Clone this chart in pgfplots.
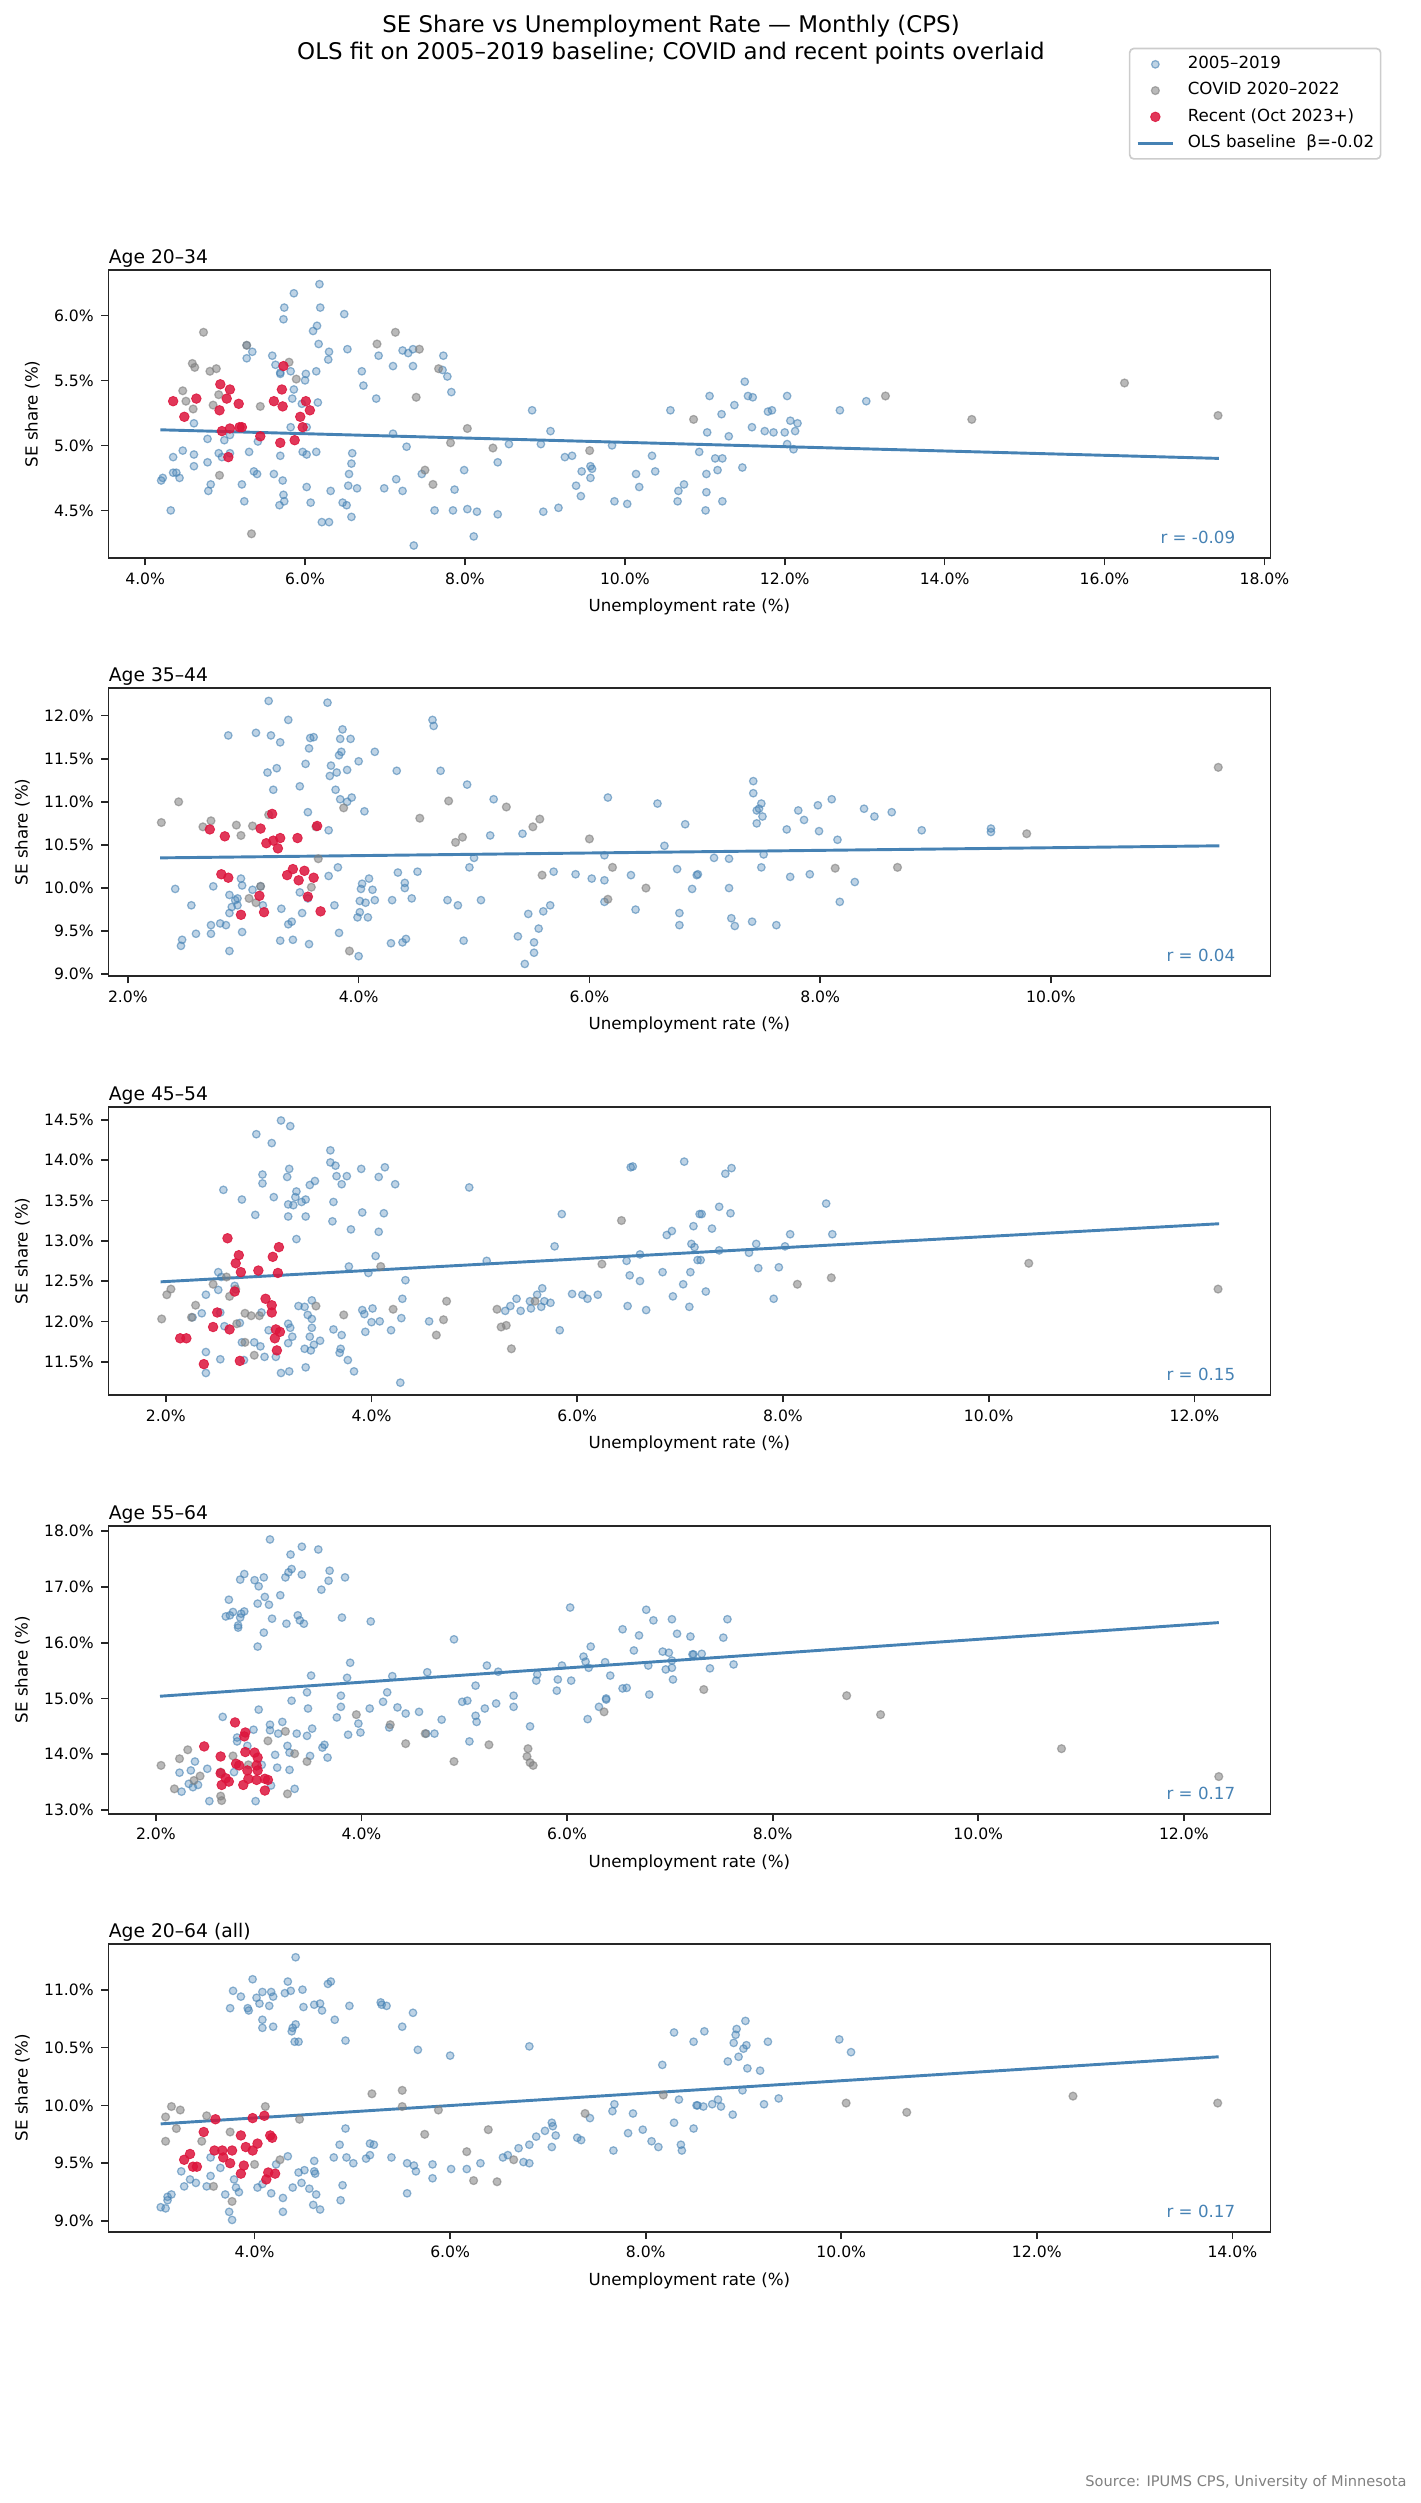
\documentclass[border=0pt]{standalone}
\usepackage{fontspec}
\setmainfont{DejaVu Sans}
\usepackage{pgfplots}
\pgfplotsset{compat=1.18}

\definecolor{steel}{RGB}{70,130,180}
\definecolor{crim}{RGB}{220,20,60}
\definecolor{covid}{RGB}{128,128,128}

\tikzset{rval/.style={anchor=base east, inner sep=0pt, text=steel, font=\fontsize{8}{9.6}\selectfont}}

\pgfplotsset{
  panel/.style={
    scale only axis, width=557.76pt, height=138.24pt, anchor=north west,
    axis line style={line width=0.8pt, black!85},
    tick style={line width=0.8pt, black!85},
    tick align=outside, major tick length=3.5pt,
    xtick pos=bottom, ytick pos=left,
    /pgf/number format/assume math mode=true,
    tick label style={font=\fontsize{7.5}{9}\selectfont},
    label style={font=\fontsize{8}{9.6}\selectfont},
    xlabel={Unemployment rate (\%)}, ylabel={SE share (\%)},
    xticklabel={\pgfmathprintnumber[fixed,fixed zerofill,precision=1]{\tick}\%},
    yticklabel={\pgfmathprintnumber[fixed,fixed zerofill,precision=1]{\tick}\%},
    scaled ticks=false,
    every axis title shift=0pt,
    title style={at={(0,1)}, anchor=base west, yshift=3pt, inner sep=0pt,
      font=\fontsize{9}{10.8}\selectfont},
  },
  base/.style={only marks, mark=*, mark size=1.8pt,
    mark options={draw=steel, fill=steel, fill opacity=0.35, draw opacity=0.6, line width=0.6pt}},
  covid/.style={only marks, mark=*, mark size=1.9pt,
    mark options={draw=covid, fill=covid, fill opacity=0.55, draw opacity=0.6, line width=0.6pt}},
  recent/.style={only marks, mark=*, mark size=2.3pt,
    mark options={draw=crim, fill=crim, opacity=0.85, line width=0.4pt}},
  ols/.style={no markers, steel, line width=1.4pt},
}

\begin{document}
\begin{tikzpicture}
\useasboundingbox (0pt,0pt) rectangle (682.08pt,-1201.44pt);

\node[align=center, font=\fontsize{11}{12.8}\selectfont] at (322.08pt,-19.2pt)
  {SE Share vs Unemployment Rate — Monthly (CPS)\\OLS fit on 2005–2019 baseline; COVID and recent points overlaid};

% ---- Age 20-34
\begin{axis}[panel, at={(52.03pt,-129.6pt)}, title={Age 20–34},
  xmin=3.54, xmax=18.075, ymin=4.134, ymax=6.349,
  xtick={4,6,...,18}, ytick={4.5,5,5.5,6},
  legend cell align=left,
  legend style={at={(1.0956,1.772)}, anchor=north east, draw=black!20, line width=0.8pt,
    rounded corners=2pt, fill=white, font=\fontsize{8}{9.6}\selectfont,
    inner xsep=3.1pt, inner ysep=3.6pt, row sep=4.6pt, column sep=6.4pt,
    nodes={inner sep=0pt, text height=6pt, text depth=2pt}}]
\addlegendimage{base}\addlegendentry{2005–2019}
\addlegendimage{covid}\addlegendentry{COVID 2020–2022}
\addlegendimage{recent}\addlegendentry{Recent (Oct 2023+)}
\addlegendimage{ols, legend image code/.code={\draw[steel, line width=1.4pt] (0pt,0pt) -- (17pt,0pt);}}
\addlegendentry{OLS baseline\ \ β=-0.02}
\addplot[ols, forget plot] coordinates {(4.19,5.12)(17.43,4.90)};
\addplot[base, forget plot] coordinates {
(6.18,6.24)(5.86,6.17)(5.74,6.06)(6.19,6.06)(5.73,5.97)(6.49,6.01)(6.10,5.88)(6.15,5.92)(6.17,5.78)(6.30,5.72)
(6.29,5.66)(6.53,5.74)(5.59,5.69)(5.63,5.62)(5.69,5.56)(5.69,5.55)(5.82,5.57)(6.01,5.55)(6.14,5.57)(6.00,5.50)
(5.86,5.43)(5.84,5.36)(5.96,5.32)(6.16,5.33)(6.71,5.57)(6.73,5.46)(6.89,5.36)(7.10,5.61)(7.35,5.61)(6.92,5.69)
(7.22,5.73)(7.29,5.71)(7.35,5.74)(7.73,5.69)(7.72,5.58)(7.78,5.53)(7.83,5.41)(5.27,5.67)(5.34,5.72)(5.27,5.77)
(4.61,5.17)(4.78,5.05)(4.99,5.04)(5.06,5.08)(4.92,4.94)(4.96,4.91)(5.06,4.94)(5.30,4.95)(5.41,5.03)(5.82,5.14)
(6.02,5.14)(5.97,4.95)(6.02,4.93)(6.14,4.95)(5.69,4.92)(6.59,4.94)(6.58,4.86)(6.55,4.78)(4.35,4.91)(4.47,4.96)
(4.61,4.93)(4.61,4.84)(4.78,4.87)(4.35,4.79)(4.39,4.79)(4.43,4.75)(4.20,4.73)(4.22,4.75)(4.79,4.65)(4.82,4.70)
(5.21,4.70)(5.24,4.57)(5.36,4.80)(5.40,4.78)(5.61,4.78)(5.72,4.73)(5.73,4.62)(5.68,4.54)(5.74,4.57)(6.02,4.68)
(6.07,4.56)(6.32,4.65)(6.54,4.69)(6.65,4.67)(6.47,4.56)(6.52,4.54)(6.58,4.45)(6.21,4.41)(6.30,4.41)(4.32,4.50)
(6.99,4.67)(7.14,4.74)(7.22,4.65)(7.10,5.09)(7.27,4.99)(7.46,4.78)(7.62,4.50)(7.85,4.50)(7.87,4.66)(7.99,4.81)
(8.03,4.51)(8.15,4.49)(8.11,4.30)(7.36,4.23)(8.41,4.87)(8.41,4.47)(8.55,5.01)(8.84,5.27)(8.95,5.01)(9.07,5.11)
(9.25,4.91)(9.34,4.92)(9.46,4.80)(9.39,4.69)(9.45,4.61)(9.57,4.84)(9.59,4.82)(9.57,4.75)(9.84,5.00)(9.87,4.57)
(10.03,4.55)(10.14,4.78)(10.18,4.68)(10.38,4.80)(10.34,4.92)(10.57,5.27)(10.67,4.65)(10.66,4.57)(10.74,4.70)(10.93,4.95)
(9.17,4.52)(8.98,4.49)
(11.50,5.49)(11.06,5.38)(11.54,5.38)(11.60,5.37)(12.03,5.38)(11.37,5.31)(11.21,5.24)(11.79,5.26)(11.84,5.27)(12.69,5.27)
(13.02,5.34)(12.07,5.19)(12.16,5.17)(11.03,5.10)(11.30,5.07)(11.59,5.14)(11.75,5.11)(11.86,5.10)(12.00,5.10)(12.13,5.11)
(12.03,5.01)(12.11,4.97)(11.13,4.90)(11.22,4.90)(11.16,4.81)(11.47,4.83)(11.02,4.78)(11.02,4.64)(11.22,4.57)(11.01,4.50)
};
\addplot[covid, forget plot] coordinates {
(4.73,5.87)(5.27,5.77)(4.59,5.63)(4.62,5.60)(4.81,5.57)(4.89,5.59)(4.47,5.42)(4.51,5.34)(4.60,5.28)(4.85,5.31)
(4.92,5.39)(4.93,4.77)(5.33,4.32)(5.44,5.30)(5.80,5.64)(5.89,5.51)(7.13,5.87)(6.90,5.78)(7.43,5.74)(7.67,5.59)
(7.39,5.37)(7.82,5.02)(8.03,5.13)(8.35,4.98)(9.56,4.96)(7.50,4.81)(7.60,4.70)(10.86,5.20)(13.26,5.38)(14.34,5.20)
(16.25,5.48)(17.42,5.23)
};
\addplot[recent, forget plot] coordinates {
(4.35,5.34)(4.49,5.22)(4.64,5.36)(4.94,5.47)(5.06,5.43)(5.02,5.36)(4.93,5.27)(5.17,5.32)(4.96,5.11)(5.06,5.13)
(5.18,5.14)(5.21,5.14)(5.44,5.07)(5.04,4.91)(5.61,5.34)(5.71,5.43)(5.72,5.30)(5.73,5.61)(5.69,5.02)(5.87,5.04)
(6.01,5.34)(6.06,5.27)(5.94,5.22)(5.97,5.14)
};
\node[rval] at (rel axis cs:0.97,0.05) {r = -0.09};
\end{axis}

% ---- Age 35-44
\begin{axis}[panel, at={(52.03pt,-330.24pt)}, title={Age 35–44},
  xmin=1.831, xmax=11.902, ymin=8.98, ymax=12.32,
  xtick={2,4,...,10}, ytick={9,9.5,...,12}]
\addplot[ols] coordinates {(2.28,10.35)(11.46,10.49)};
\addplot[base] coordinates {
(3.22,12.17)(3.73,12.15)(3.39,11.95)(4.64,11.95)(4.65,11.88)(2.87,11.77)(3.11,11.80)(3.24,11.77)(3.32,11.69)(3.58,11.74)
(3.61,11.75)(3.86,11.84)(3.84,11.73)(3.93,11.73)(3.57,11.62)(3.85,11.58)(3.83,11.54)(4.14,11.58)(4.00,11.47)(3.54,11.44)
(3.76,11.42)(3.81,11.34)(3.75,11.30)(3.90,11.37)(3.21,11.34)(3.29,11.39)(4.33,11.36)(4.71,11.36)(3.49,11.18)(3.26,11.14)
(3.80,11.14)(4.94,11.20)(3.84,11.03)(3.94,11.05)(3.90,11.00)(5.17,11.03)(3.56,10.88)(4.05,10.89)(6.16,11.05)(6.59,10.98)
(6.83,10.74)(3.74,10.67)(5.14,10.61)(5.42,10.63)(6.65,10.49)(5.00,10.35)(4.96,10.24)(6.13,10.38)(3.82,10.24)(3.74,10.14)
(4.34,10.18)(4.51,10.19)(4.40,10.06)(4.40,10.00)(4.03,10.05)(4.09,10.11)(4.02,9.99)(4.12,9.98)(5.69,10.19)(5.88,10.16)
(6.02,10.11)(6.13,10.09)(6.36,10.15)(6.76,10.22)(6.93,10.15)(6.89,9.99)(2.98,10.11)(2.99,10.03)(2.74,10.02)(2.41,9.99)
(2.55,9.80)(2.88,9.92)(2.93,9.86)(2.95,9.88)(2.90,9.78)(2.95,9.80)(2.88,9.71)(3.08,9.98)(3.15,10.02)(3.17,9.80)
(3.33,9.76)(3.49,9.95)(3.51,9.71)(3.56,9.88)(3.79,9.80)(4.01,9.85)(4.06,9.83)(4.14,9.86)(4.29,9.86)(4.46,9.88)
(4.77,9.86)(4.86,9.80)(5.06,9.86)(5.60,9.73)(5.66,9.80)(5.47,9.70)(5.56,9.53)(6.13,9.84)(6.40,9.75)(6.78,9.71)
(6.78,9.57)(3.99,9.66)(4.08,9.66)(4.01,9.72)(2.72,9.57)(2.80,9.59)(2.85,9.57)(2.59,9.47)(2.72,9.47)(2.99,9.49)
(2.47,9.40)(2.46,9.33)(2.88,9.27)(3.32,9.39)(3.43,9.40)(3.39,9.58)(3.42,9.61)(3.57,9.35)(3.83,9.48)(4.00,9.21)
(4.28,9.36)(4.38,9.37)(4.41,9.41)(4.91,9.39)(5.38,9.44)(5.52,9.37)(5.52,9.25)(5.44,9.12)
(7.42,11.24)(7.42,11.10)(7.49,10.98)(7.45,10.90)(7.47,10.92)(7.50,10.83)(7.45,10.75)(7.71,10.68)(7.81,10.90)(7.86,10.79)
(7.98,10.96)(8.10,11.03)(7.99,10.66)(8.15,10.56)(8.38,10.92)(8.47,10.83)(8.62,10.88)(8.88,10.67)(9.48,10.69)(9.48,10.65)
(7.08,10.35)(7.21,10.34)(7.51,10.39)(7.49,10.24)(6.94,10.16)(7.21,10.00)(7.74,10.13)(7.91,10.16)(8.30,10.07)(8.17,9.84)
(7.23,9.65)(7.26,9.56)(7.41,9.61)(7.62,9.57)
};
\addplot[covid] coordinates {
(2.29,10.76)(2.44,11.00)(2.72,10.78)(2.65,10.71)(2.94,10.73)(2.98,10.61)(3.08,10.72)(3.22,10.85)(3.63,10.71)(3.87,10.93)
(3.65,10.34)(3.59,10.01)(3.15,10.02)(3.05,9.88)(3.11,9.83)(3.92,9.27)(4.53,10.81)(4.78,11.01)(4.84,10.53)(4.90,10.59)
(5.28,10.94)(5.51,10.71)(5.57,10.80)(5.59,10.15)(6.00,10.57)(6.20,10.24)(6.49,10.00)(6.16,9.87)(8.13,10.23)(8.67,10.24)
(9.79,10.63)(11.45,11.40)
};
\addplot[recent] coordinates {
(2.71,10.68)(2.84,10.60)(3.15,10.69)(3.25,10.86)(3.20,10.52)(3.26,10.55)(3.32,10.58)(3.30,10.46)(3.47,10.58)(3.64,10.72)
(2.81,10.16)(2.87,10.12)(3.38,10.15)(3.43,10.22)(3.48,10.09)(3.53,10.20)(3.61,10.12)(3.14,9.91)(3.56,9.90)(2.98,9.69)
(3.18,9.72)(3.67,9.73)
};
\node[rval] at (rel axis cs:0.97,0.05) {r = 0.04};
\end{axis}

% ---- Age 45-54
\begin{axis}[panel, at={(52.03pt,-531.36pt)}, title={Age 45–54},
  xmin=1.442, xmax=12.739, ymin=11.087, ymax=14.657,
  xtick={2,4,...,12}, ytick={11.5,12,...,14.5}]
\addplot[ols] coordinates {(1.95,12.49)(12.24,13.21)};
\addplot[base] coordinates {
(3.12,14.49)(3.21,14.42)(2.88,14.32)(3.03,14.21)(3.60,14.12)(3.60,13.97)(3.65,13.93)(3.90,13.89)(4.13,13.91)(4.07,13.79)
(3.76,13.80)(3.66,13.80)(3.71,13.70)(4.23,13.70)(3.45,13.74)(3.40,13.69)(3.20,13.89)(3.18,13.79)(2.94,13.82)(2.94,13.71)
(2.56,13.63)(2.74,13.51)(3.05,13.54)(3.27,13.61)(3.26,13.54)(3.36,13.51)(3.32,13.48)(3.19,13.45)(3.24,13.44)(3.63,13.48)
(2.87,13.32)(3.19,13.30)(3.36,13.30)(3.62,13.24)(3.91,13.35)(4.12,13.34)(3.80,13.14)(4.07,13.11)(3.27,13.02)(4.95,13.66)
(5.85,13.33)(6.52,13.91)(6.54,13.92)(7.04,13.98)(5.78,12.93)(6.87,13.07)(6.92,13.12)(7.13,13.18)(7.19,13.33)(7.11,12.96)
(7.14,12.92)(7.17,12.76)(6.48,12.75)(6.61,12.83)(5.12,12.75)(4.04,12.81)(3.78,12.68)(3.97,12.60)(4.33,12.51)(6.51,12.57)
(6.61,12.50)(6.83,12.61)(7.10,12.61)(7.03,12.46)(6.93,12.31)(6.49,12.19)(6.67,12.14)(7.09,12.18)(5.95,12.34)(6.05,12.33)
(6.10,12.28)(6.20,12.33)(5.66,12.41)(5.61,12.33)(5.68,12.25)(5.74,12.23)(5.41,12.28)(5.35,12.19)(5.30,12.13)(5.45,12.13)
(5.55,12.16)(5.65,12.18)(5.54,12.25)(5.83,11.89)(2.51,12.61)(2.54,12.55)(2.67,12.44)(2.51,12.39)(2.39,12.33)(2.35,12.10)
(2.26,12.05)(2.53,12.11)(2.57,11.94)(2.72,11.98)(2.93,12.11)(2.39,11.62)(2.39,11.36)(2.53,11.53)(2.74,11.74)(2.86,11.74)
(2.92,11.69)(2.76,11.52)(2.96,11.56)(3.07,11.56)(3.00,11.89)(3.19,11.97)(3.21,11.92)(3.23,11.81)(3.19,11.73)(3.12,11.36)
(3.20,11.38)(3.36,11.43)(3.29,12.19)(3.35,12.18)(3.42,12.26)(3.38,12.08)(3.42,12.03)(3.42,11.92)(3.40,11.81)(3.35,11.66)
(3.41,11.64)(3.44,11.71)(3.50,11.76)(3.63,11.90)(3.71,11.83)(3.70,11.66)(3.69,11.61)(3.77,11.52)(3.83,11.38)(3.91,12.14)
(3.93,12.09)(4.01,12.16)(4.00,11.99)(4.08,12.00)(3.94,11.87)(4.19,11.89)(4.29,12.04)(4.30,12.28)(4.56,12.00)(4.28,11.24)
(7.44,13.83)(7.50,13.90)(7.38,13.42)(7.49,13.34)(7.21,13.33)(7.31,13.15)(8.42,13.46)(8.48,13.08)(8.07,13.08)(7.74,12.96)
(8.02,12.93)(7.38,12.88)(7.67,12.85)(7.20,12.76)(7.76,12.66)(7.96,12.67)(7.25,12.37)(7.91,12.28)
};
\addplot[covid] coordinates {
(1.96,12.03)(2.01,12.33)(2.05,12.40)(2.29,12.20)(2.25,12.05)(2.46,12.46)(2.59,12.55)(2.62,12.31)(2.68,12.40)(2.69,11.97)
(2.77,12.10)(2.83,12.07)(2.91,12.07)(2.77,11.74)(2.86,11.58)(3.46,12.19)(3.73,12.08)(4.09,12.68)(4.21,12.15)(4.73,12.25)
(4.70,12.02)(4.63,11.83)(5.22,12.15)(5.26,11.93)(5.31,11.95)(5.36,11.66)(5.59,12.25)(6.24,12.71)(6.43,13.25)(8.14,12.46)
(8.47,12.54)(10.39,12.72)(12.23,12.40)
};
\addplot[recent] coordinates {
(2.60,13.03)(2.71,12.82)(2.68,12.72)(2.73,12.61)(2.90,12.63)(3.04,12.80)(3.10,12.92)(3.09,12.60)(2.67,12.37)(2.97,12.28)
(3.03,12.20)(3.03,12.11)(2.50,12.11)(2.46,11.93)(2.62,11.90)(2.14,11.79)(2.20,11.79)(3.07,11.90)(3.11,11.87)(3.06,11.79)
(3.08,11.64)(2.37,11.47)(2.72,11.51)
};
\node[rval] at (rel axis cs:0.97,0.05) {r = 0.15};
\end{axis}

% ---- Age 55-64
\begin{axis}[panel, at={(52.03pt,-732.34pt)}, title={Age 55–64},
  xmin=1.538, xmax=12.842, ymin=12.934, ymax=18.096,
  xtick={2,4,...,12}, ytick={13,14,...,18}]
\addplot[ols] coordinates {(2.04,15.04)(12.34,16.36)};
\addplot[base] coordinates {
(3.11,17.85)(3.42,17.72)(3.58,17.67)(3.31,17.58)(2.86,17.23)(2.82,17.13)(2.96,17.12)(3.00,17.01)(3.05,17.17)(3.26,17.17)
(3.29,17.26)(3.32,17.32)(3.42,17.22)(3.69,17.29)(3.68,17.11)(3.84,17.17)(3.61,16.95)(3.21,16.85)(3.06,16.82)(2.71,16.77)
(2.99,16.70)(3.10,16.68)(2.68,16.47)(2.72,16.49)(2.75,16.55)(2.83,16.52)(2.86,16.56)(2.82,16.45)(2.80,16.31)(2.80,16.27)
(3.13,16.43)(3.27,16.34)(3.38,16.49)(3.40,16.40)(3.44,16.34)(3.81,16.45)(4.09,16.38)(3.05,16.18)(2.99,15.93)(3.89,15.64)
(3.51,15.41)(3.86,15.37)(4.30,15.40)(4.64,15.47)(4.90,16.06)(6.03,16.63)(6.77,16.59)(6.84,16.40)(7.02,16.42)(6.54,16.24)
(6.70,16.13)(7.07,16.16)(7.20,16.11)(6.23,15.93)(6.16,15.75)(6.18,15.66)(6.21,15.55)(5.95,15.59)(6.37,15.65)(6.42,15.41)
(6.65,15.86)(6.93,15.84)(6.99,15.82)(7.02,15.68)(6.79,15.59)(6.96,15.52)(7.02,15.55)(7.03,15.34)(7.22,15.79)(5.22,15.59)
(5.33,15.48)(5.71,15.43)(5.70,15.32)(5.91,15.34)(6.04,15.32)(5.90,15.14)(6.54,15.18)(6.58,15.19)(6.80,15.07)(6.38,14.98)
(6.31,14.85)(6.20,14.63)(5.11,15.23)(5.48,15.05)(4.98,14.94)(5.03,14.96)(5.20,14.82)(5.31,14.91)(5.48,14.85)(5.11,14.69)
(5.12,14.58)(5.64,14.50)(5.05,14.23)(4.25,15.11)(4.21,14.94)(4.35,14.84)(4.43,14.73)(4.56,14.76)(4.78,14.62)(4.71,14.37)
(4.63,14.37)(4.27,14.48)(4.08,14.82)(3.80,15.05)(3.80,14.85)(3.76,14.66)(3.97,14.55)(3.99,14.39)(3.87,14.35)(3.47,15.11)
(3.32,14.96)(3.48,14.82)(3.00,14.80)(2.65,14.67)(2.95,14.44)(3.11,14.53)(3.23,14.58)(3.11,14.43)(3.19,14.37)(3.37,14.37)
(3.52,14.46)(3.47,14.33)(3.64,14.17)(3.62,14.12)(3.28,14.15)(3.30,14.03)(3.16,13.99)(3.50,13.97)(3.67,13.94)(3.18,13.76)
(3.30,13.72)(3.35,13.38)(3.12,13.44)(2.79,14.30)(2.79,14.23)(2.89,14.15)(2.38,13.87)(2.50,13.74)(2.34,13.71)(2.23,13.67)
(2.32,13.47)(2.36,13.41)(2.41,13.45)(2.25,13.33)(2.52,13.16)(2.97,13.16)(2.76,13.68)(3.03,13.81)(6.38,15.00)
(7.56,16.42)(7.52,16.09)(7.23,15.79)(7.31,15.80)(7.39,15.54)(7.62,15.61)
};
\addplot[covid] coordinates {
(2.05,13.80)(2.23,13.92)(2.31,14.08)(2.37,13.53)(2.43,13.61)(2.18,13.38)(2.63,13.25)(2.64,13.17)(2.63,13.68)(2.75,13.97)
(2.90,13.81)(3.09,14.24)(3.26,14.41)(3.35,14.01)(3.47,13.87)(3.28,13.29)(3.95,14.71)(4.28,14.53)(4.62,14.37)(4.43,14.19)
(4.90,13.87)(5.24,14.17)(5.62,14.10)(5.61,13.96)(5.64,13.85)(5.67,13.80)(6.36,14.76)(7.33,15.16)(8.72,15.05)(9.05,14.71)
(10.81,14.10)(12.34,13.60)
};
\addplot[recent] coordinates {
(2.77,14.57)(2.87,14.39)(2.86,14.32)(2.47,14.14)(2.63,13.96)(2.87,14.04)(2.96,14.03)(2.99,13.94)(2.78,13.83)(2.81,13.80)
(2.98,13.80)(2.89,13.71)(2.99,13.71)(2.63,13.66)(2.68,13.57)(2.71,13.51)(2.64,13.45)(2.85,13.45)(2.90,13.56)(2.98,13.54)
(3.06,13.56)(3.09,13.54)(3.06,13.35)
};
\node[rval] at (rel axis cs:0.97,0.05) {r = 0.17};
\end{axis}

% ---- Age 20-64 (all)
\begin{axis}[panel, at={(52.03pt,-932.98pt)}, title={Age 20–64 (all)},
  xmin=2.505, xmax=14.389, ymin=8.908, ymax=11.397,
  xtick={4,6,...,14}, ytick={9,9.5,...,11}]
\addplot[ols] coordinates {(3.04,9.84)(13.86,10.42)};
\addplot[base] coordinates {
(4.42,11.28)(3.98,11.09)(4.34,11.07)(4.78,11.07)(4.75,11.05)(3.78,10.99)(3.86,10.94)(4.02,10.93)(4.08,10.98)(4.17,10.98)
(4.19,10.94)(4.31,10.97)(4.37,10.99)(4.49,11.00)(4.05,10.88)(4.15,10.86)(3.75,10.84)(3.93,10.84)(3.94,10.82)(4.50,10.85)
(4.61,10.87)(4.67,10.88)(4.69,10.82)(4.97,10.86)(5.29,10.89)(5.30,10.87)(5.35,10.86)(5.62,10.80)(4.82,10.74)(4.08,10.74)
(4.08,10.67)(4.19,10.68)(4.42,10.70)(4.39,10.67)(4.38,10.64)(4.41,10.55)(4.45,10.55)(4.93,10.56)(5.51,10.68)(5.67,10.48)
(6.00,10.43)(6.81,10.51)(8.29,10.63)(8.49,10.55)(8.17,10.35)(8.34,10.05)(8.53,10.00)(7.68,10.01)(7.66,9.95)(7.87,9.93)
(7.43,9.89)(8.29,9.85)(8.49,9.80)(7.97,9.79)(7.82,9.76)(8.06,9.69)(8.13,9.64)(8.36,9.66)(8.37,9.61)(7.67,9.61)
(7.04,9.85)(7.05,9.82)(7.08,9.74)(6.97,9.78)(6.88,9.73)(6.81,9.66)(6.70,9.63)(7.04,9.64)(7.30,9.72)(7.34,9.70)
(6.59,9.57)(6.54,9.55)(6.75,9.51)(6.81,9.50)(6.31,9.50)(6.17,9.45)(6.01,9.45)(5.82,9.49)(5.82,9.37)(5.56,9.50)
(5.63,9.48)(5.65,9.43)(5.56,9.24)(5.40,9.55)(5.14,9.54)(5.18,9.57)(5.18,9.67)(5.22,9.66)(4.93,9.80)(4.87,9.66)
(4.81,9.55)(4.94,9.55)(5.01,9.50)(4.90,9.31)(4.88,9.18)(4.61,9.52)(4.61,9.43)(4.62,9.41)(4.51,9.44)(4.45,9.42)
(4.48,9.33)(4.56,9.28)(4.63,9.23)(4.60,9.14)(4.67,9.10)(4.39,9.29)(4.34,9.56)(4.22,9.49)(4.29,9.20)(4.29,9.08)
(4.17,9.24)(4.03,9.29)(4.08,9.32)(3.81,9.29)(3.79,9.36)(3.84,9.25)(3.70,9.23)(3.74,9.08)(3.77,9.01)(3.55,9.55)
(3.55,9.39)(3.65,9.46)(3.51,9.30)(3.34,9.36)(3.40,9.33)(3.28,9.30)(3.25,9.43)(3.15,9.23)(3.11,9.21)(3.11,9.18)
(3.04,9.12)(3.09,9.11)
(9.02,10.73)(8.93,10.66)(8.92,10.61)(8.90,10.54)(9.03,10.52)(9.00,10.49)(8.60,10.64)(9.25,10.55)(9.98,10.57)(10.10,10.46)
(8.95,10.42)(8.84,10.38)(9.04,10.32)(9.17,10.30)(8.99,10.13)(8.74,10.05)(8.52,10.00)(8.59,9.99)(8.68,10.01)(8.77,9.99)
(8.89,9.92)(9.21,10.01)(9.36,10.06)
};
\addplot[covid] coordinates {
(3.15,9.99)(3.24,9.96)(3.09,9.90)(3.20,9.80)(3.09,9.69)(3.51,9.91)(3.46,9.69)(3.75,9.77)(3.58,9.30)(3.77,9.17)
(4.00,9.49)(4.11,9.99)(4.46,9.88)(4.26,9.53)(5.20,10.10)(5.51,10.13)(5.51,9.99)(5.88,9.96)(5.74,9.75)(6.17,9.60)
(6.24,9.35)(6.48,9.34)(6.39,9.79)(6.65,9.53)(7.38,9.93)(8.18,10.09)(10.05,10.02)(10.67,9.94)(12.37,10.08)(13.85,10.02)
};
\addplot[recent] coordinates {
(3.60,9.88)(3.48,9.77)(3.98,9.89)(4.10,9.91)(3.86,9.74)(4.16,9.74)(4.18,9.72)(3.59,9.61)(3.67,9.61)(3.77,9.61)
(3.91,9.64)(3.98,9.61)(4.03,9.67)(3.68,9.55)(3.75,9.50)(3.34,9.58)(3.28,9.53)(3.37,9.47)(3.41,9.47)(3.89,9.48)
(3.86,9.41)(4.14,9.42)(4.21,9.41)(4.12,9.36)
};
\node[rval] at (rel axis cs:0.97,0.05) {r = 0.17};
\end{axis}

\node[anchor=south east, inner sep=0pt, text=covid, font=\fontsize{7}{8.4}\selectfont]
  at (675.3pt,-1195.4pt) {Source: IPUMS CPS, University of Minnesota};
\end{tikzpicture}
\end{document}
